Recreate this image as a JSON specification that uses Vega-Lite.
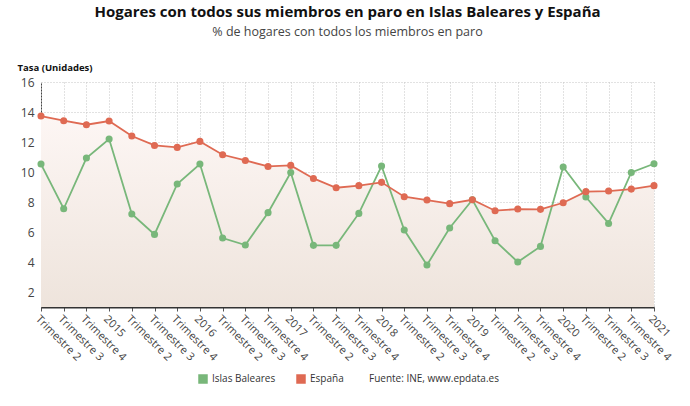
{
  "$schema": "https://vega.github.io/schema/vega-lite/v6.json",
  "autosize": {"type": "none"},
  "padding": {"left": 41, "top": 82, "right": 36, "bottom": 99},
  "width": 613,
  "height": 225,
  "background": "white",
  "title": {
    "text": "Hogares con todos sus miembros en paro en Islas Baleares y España",
    "subtitle": "% de hogares con todos los miembros en paro",
    "font": "Open Sans",
    "fontSize": 15,
    "fontWeight": "bold",
    "color": "#111",
    "subtitleFont": "Open Sans",
    "subtitleFontSize": 12.5,
    "subtitleColor": "#444",
    "subtitlePadding": 6,
    "anchor": "middle",
    "offset": 24
  },
  "config": {
    "font": "Open Sans",
    "view": {"stroke": null},
    "axis": {
      "zindex": 1,
      "gridColor": "#c4c4c4",
      "gridDash": [1, 2],
      "gridWidth": 1,
      "labelColor": "#444",
      "labelFont": "Open Sans"
    },
    "axisY": {
      "labelOverlap": false,
      "labelFontSize": 12,
      "labelPadding": 7,
      "ticks": false,
      "domainColor": "#444",
      "domainDash": [2, 1],
      "grid": true
    }
  },
  "data": {
    "values": [
      {"t": "2014-T2", "esp": 13.73, "bal": 10.53},
      {"t": "2014-T3", "esp": 13.42, "bal": 7.55},
      {"t": "2014-T4", "esp": 13.15, "bal": 10.93},
      {"t": "2015-T1", "esp": 13.4, "bal": 12.2},
      {"t": "2015-T2", "esp": 12.4, "bal": 7.2},
      {"t": "2015-T3", "esp": 11.77, "bal": 5.84},
      {"t": "2015-T4", "esp": 11.64, "bal": 9.2},
      {"t": "2016-T1", "esp": 12.04, "bal": 10.53},
      {"t": "2016-T2", "esp": 11.15, "bal": 5.6},
      {"t": "2016-T3", "esp": 10.77, "bal": 5.13},
      {"t": "2016-T4", "esp": 10.37, "bal": 7.29},
      {"t": "2017-T1", "esp": 10.44, "bal": 9.97},
      {"t": "2017-T2", "esp": 9.57, "bal": 5.11},
      {"t": "2017-T3", "esp": 8.95, "bal": 5.11},
      {"t": "2017-T4", "esp": 9.09, "bal": 7.24},
      {"t": "2018-T1", "esp": 9.31, "bal": 10.4},
      {"t": "2018-T2", "esp": 8.35, "bal": 6.13},
      {"t": "2018-T3", "esp": 8.13, "bal": 3.8},
      {"t": "2018-T4", "esp": 7.89, "bal": 6.27},
      {"t": "2019-T1", "esp": 8.15, "bal": 8.15},
      {"t": "2019-T2", "esp": 7.42, "bal": 5.42},
      {"t": "2019-T3", "esp": 7.53, "bal": 4.0},
      {"t": "2019-T4", "esp": 7.51, "bal": 5.04},
      {"t": "2020-T1", "esp": 7.95, "bal": 10.33},
      {"t": "2020-T2", "esp": 8.69, "bal": 8.33},
      {"t": "2020-T3", "esp": 8.73, "bal": 6.57},
      {"t": "2020-T4", "esp": 8.86, "bal": 9.97},
      {"t": "2021-T1", "esp": 9.09, "bal": 10.55}
    ]
  },
  "encoding": {
    "x": {
      "field": "t",
      "type": "ordinal",
      "sort": null,
      "scale": {"type": "point", "padding": 0},
      "axis": {
        "title": null,
        "labelAngle": 45,
        "labelAlign": "left",
        "labelBaseline": "top",
        "labelFontSize": 11,
        "labelPadding": 2,
        "labelOverlap": false,
        "labelExpr": "indexof(datum.value, 'T1') > 0 ? substring(datum.value, 0, 4) : 'Trimestre ' + substring(datum.value, 6)",
        "domainColor": "#333",
        "domainWidth": 2,
        "tickColor": "#555",
        "tickSize": 4,
        "grid": true
      }
    }
  },
  "layer": [
    {
      "mark": {
        "type": "area",
        "fill": {
          "gradient": "linear",
          "x1": 0, "y1": 0, "x2": 0, "y2": 1,
          "stops": [
            {"offset": 0, "color": "#fdf6f4"},
            {"offset": 1, "color": "#eee4dc"}
          ]
        }
      },
      "encoding": {
        "y": {
          "field": "esp",
          "type": "quantitative",
          "scale": {"domain": [1, 16], "zero": false, "nice": false},
          "axis": {
            "title": "Tasa (Unidades)",
            "titleAngle": 0,
            "titleX": -24,
            "titleY": -15,
            "titleAlign": "left",
            "titleBaseline": "middle",
            "titleFont": "Open Sans",
            "titleFontSize": 9.5,
            "titleFontWeight": "bold",
            "titleColor": "#111",
            "values": [2, 4, 6, 8, 10, 12, 14, 16],
            "labelOverlap": false
          }
        },
        "y2": {"datum": 1}
      }
    },
    {
      "transform": [
        {"fold": ["bal", "esp"], "as": ["key", "valor"]},
        {"lookup": "key", "from": {"data": {"values": [
          {"key": "bal", "serie": "Islas Baleares"},
          {"key": "esp", "serie": "España"}
        ]}, "key": "key", "fields": ["serie"]}}
      ],
      "mark": {
        "type": "line",
        "strokeWidth": 1.8,
        "point": {"filled": true, "size": 50, "opacity": 1}
      },
      "encoding": {
        "y": {
          "field": "valor",
          "type": "quantitative",
          "axis": {
            "title": "Tasa (Unidades)",
            "values": [2, 4, 6, 8, 10, 12, 14, 16],
            "labelOverlap": false
          }
        },
        "color": {
          "field": "serie",
          "type": "nominal",
          "scale": {
            "domain": ["Islas Baleares", "España", "Fuente: INE, www.epdata.es"],
            "range": ["#78b77a", "#df6a53", "transparent"]
          },
          "legend": {
            "title": null,
            "orient": "none",
            "direction": "horizontal",
            "legendX": 157,
            "legendY": 292,
            "symbolType": "square",
            "symbolSize": 64,
            "labelFont": "Open Sans",
            "labelFontSize": 10,
            "labelColor": "#333",
            "columnPadding": 18,
            "encode": {
              "symbols": {
                "update": {
                  "fill": {"scale": "color", "field": "value"},
                  "stroke": {"value": "transparent"}
                }
              },
              "labels": {
                "update": {
                  "dx": {"signal": "datum.value === 'Fuente: INE, www.epdata.es' ? -9 : 0"}
                }
              }
            }
          }
        }
      }
    }
  ]
}
